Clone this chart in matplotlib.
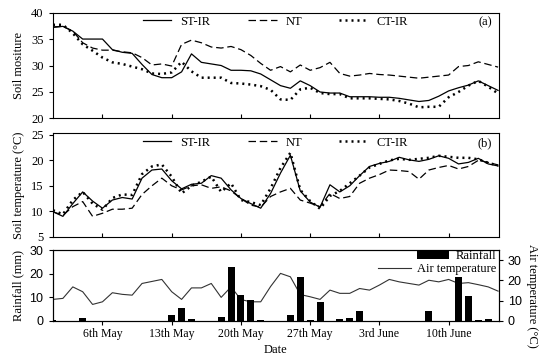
import matplotlib
matplotlib.use("Agg")
import matplotlib.pyplot as plt
import numpy as np

# day 0 = 1st May
days = np.arange(46)
tick_days = [5, 12, 19, 26, 33, 40]
tick_labels = ["6th May", "13th May", "20th May", "27th May", "3rd June", "10th June"]

# soil moisture (%)
sm_st = [37.2, 37.4, 36.5, 35.0, 35.0, 35.0, 33.0, 32.5, 32.3, 30.2,
         28.3, 27.7, 27.7, 28.8, 32.2, 30.6, 30.3, 30.0, 29.1, 29.1,
         29.0, 28.4, 27.3, 26.2, 25.7, 27.1, 26.2, 25.0, 24.8, 24.8,
         24.1, 24.1, 24.1, 24.0, 24.0, 23.8, 23.5, 23.2, 23.4, 24.2,
         25.2, 25.8, 26.3, 27.1, 26.2, 25.3]
sm_nt = [37.3, 37.4, 36.5, 34.3, 33.3, 32.9, 32.9, 32.6, 32.4, 31.5,
         30.1, 30.3, 29.9, 34.0, 34.8, 34.3, 33.5, 33.3, 33.6, 33.0,
         31.9, 30.4, 29.1, 29.8, 28.8, 30.1, 29.1, 29.6, 30.6, 28.5,
         28.0, 28.2, 28.5, 28.3, 28.2, 28.0, 27.8, 27.6, 27.8, 28.0,
         28.2, 29.8, 30.0, 30.7, 30.2, 29.7]
sm_ct = [37.7, 37.7, 36.1, 34.0, 32.8, 31.5, 30.6, 30.3, 29.8, 29.3,
         28.5, 28.4, 28.7, 30.7, 28.9, 27.7, 27.7, 27.7, 26.7, 26.6,
         26.4, 26.1, 25.4, 23.6, 23.5, 25.5, 25.8, 24.8, 24.6, 24.6,
         23.8, 23.8, 23.8, 23.7, 23.6, 23.3, 22.8, 22.1, 22.2, 22.2,
         24.0, 25.0, 26.2, 27.1, 26.0, 24.7]

# soil temperature (°C)
st_st = [9.9, 9.0, 11.5, 13.8, 12.0, 10.6, 12.2, 12.7, 12.4, 16.5,
         18.1, 18.3, 16.0, 14.4, 15.3, 15.5, 17.0, 16.5, 14.2, 12.5,
         11.5, 10.6, 13.5, 17.5, 21.0, 14.0, 11.8, 10.8, 15.2, 13.8,
         15.0, 17.0, 18.8, 19.4, 19.8, 20.6, 20.1, 19.8, 20.2, 20.9,
         20.4, 19.3, 19.6, 20.4, 19.3, 18.9]
st_nt = [9.9, 9.2, 10.9, 11.9, 9.0, 9.6, 10.4, 10.4, 10.6, 13.3,
         15.0, 16.5, 15.0, 14.2, 15.0, 15.2, 14.5, 14.8, 14.0, 12.5,
         11.2, 10.8, 12.9, 13.8, 14.5, 12.2, 11.6, 10.9, 13.5, 12.5,
         12.9, 15.5, 16.5, 17.2, 18.1, 18.0, 17.8, 16.3, 18.1, 18.6,
         19.0, 18.3, 18.8, 20.0, 19.6, 19.1]
st_ct = [10.2, 9.4, 12.2, 13.8, 11.5, 10.3, 12.6, 13.3, 13.2, 17.3,
         18.8, 19.2, 16.8, 13.5, 15.0, 15.8, 16.8, 13.8, 15.5, 12.2,
         11.8, 11.2, 14.5, 18.5, 21.5, 14.2, 12.0, 10.5, 13.0, 14.0,
         15.5, 17.0, 18.6, 19.3, 20.0, 20.3, 20.1, 20.3, 20.5, 20.9,
         20.7, 20.5, 20.5, 20.2, 19.5, 19.0]

# weather
rain_days = [0, 3, 12, 13, 14, 17, 18, 19, 20, 21, 24, 25, 26, 27, 29, 30, 31, 38, 41, 42, 43, 44]
rain_mm = [0.3, 1.3, 2.5, 5.6, 0.8, 1.8, 23.0, 11.0, 9.0, 0.4, 2.4, 18.8, 0.5, 8.1,
           0.8, 1.3, 4.3, 4.3, 18.8, 10.6, 0.5, 0.8]
air_temp = [10.6, 11.1, 16.8, 14.4, 8.1, 9.4, 13.9, 13.1, 12.7, 18.5,
            19.5, 20.5, 14.4, 10.6, 16.3, 16.3, 18.5, 11.6, 16.8, 10.5,
            9.4, 9.4, 17.0, 23.5, 21.8, 13.0, 11.9, 10.6, 15.2, 13.6,
            13.6, 16.0, 15.2, 17.7, 20.5, 19.3, 18.5, 17.7, 20.1, 19.3,
            20.5, 18.5, 18.9, 17.9, 16.8, 14.7]

serif = "Liberation Serif"
sans = "Liberation Sans"
dotted = (0, (0.8, 1.6))
dashed = (0, (6, 3))

fig = plt.figure(figsize=(5.5, 3.6), dpi=100)
ax_a = fig.add_axes([0.0955, 0.671, 0.811, 0.294])
ax_b = fig.add_axes([0.0955, 0.3425, 0.811, 0.287])
ax_c = fig.add_axes([0.0955, 0.109, 0.811, 0.196])

for ax in (ax_a, ax_b, ax_c):
    ax.set_xlim(-0.05, 45.05)
    ax.set_xticks(tick_days)
    for sp in ax.spines.values():
        sp.set_linewidth(0.8)

# (a) soil moisture
ax_a.plot(days, sm_st, color="black", lw=0.9, label="ST-IR")
ax_a.plot(days, sm_nt, color="black", lw=0.9, ls=dashed, label="NT")
ax_a.plot(days, sm_ct, color="black", lw=1.8, ls=dotted, label="CT-IR")
ax_a.set_ylim(20, 40)
ax_a.set_yticks([20, 25, 30, 35, 40])
ax_a.set_ylabel("Soil mositure", family=serif, fontsize=9, labelpad=4)
ax_a.text(0.985, 0.965, "(a)", transform=ax_a.transAxes, ha="right", va="top",
          family=serif, fontsize=9)

# (b) soil temperature
ax_b.plot(days, st_st, color="black", lw=0.9, label="ST-IR")
ax_b.plot(days, st_nt, color="black", lw=0.9, ls=dashed, label="NT")
ax_b.plot(days, st_ct, color="black", lw=1.8, ls=dotted, label="CT-IR")
ax_b.set_ylim(5, 25.3)
ax_b.set_yticks([5, 10, 15, 20, 25])
ax_b.set_ylabel("Soil temperature (°C)", family=serif, fontsize=9, labelpad=4)
ax_b.text(0.985, 0.965, "(b)", transform=ax_b.transAxes, ha="right", va="top",
          family=serif, fontsize=9)

for ax in (ax_a, ax_b):
    ax.tick_params(axis="x", direction="in", length=3, labelbottom=False)
    ax.tick_params(axis="y", direction="out", length=3, labelsize=9)
    for t in ax.get_yticklabels():
        t.set_family(serif)
    ax.legend(loc="upper center", bbox_to_anchor=(0.5, 1.0), ncol=3, frameon=False,
              prop={"family": serif, "size": 9}, handlelength=2.3, columnspacing=3.0,
              handletextpad=0.7, borderaxespad=0.15, borderpad=0.1)

# (c) rainfall and air temperature
ax_t = ax_c.twinx()
ax_c.set_zorder(ax_t.get_zorder() + 1)
ax_c.patch.set_visible(False)
bars = ax_c.bar(rain_days, rain_mm, width=0.7, color="black", label="Rainfall")
line, = ax_t.plot(days, air_temp, color="#333333", lw=0.8, label="Air temperature")
ax_c.set_ylim(0, 30)
ax_c.set_yticks([0, 10, 20, 30])
ax_t.set_ylim(0, 35)
ax_t.set_yticks([0, 10, 20, 30])
ax_c.set_xticklabels(tick_labels, family=serif, fontsize=8.5)
ax_c.tick_params(axis="x", direction="out", length=3, pad=2)
ax_c.tick_params(axis="y", direction="out", length=3, labelsize=9)
ax_t.tick_params(axis="y", direction="out", length=3, labelsize=9)
for t in ax_c.get_yticklabels() + ax_t.get_yticklabels():
    t.set_family(sans)
ax_c.set_ylabel("Rainfall (mm)", family=serif, fontsize=9, labelpad=4)
ax_t.set_ylabel("Air temperature (°C)", family=serif, fontsize=9, rotation=-90,
                labelpad=12, y=0.35)
ax_c.set_xlabel("Date", family=serif, fontsize=9, labelpad=3)
leg = ax_c.legend([bars, line], ["Rainfall", "Air temperature"], loc="upper right",
                  bbox_to_anchor=(1.0, 1.04), frameon=False,
                  prop={"family": serif, "size": 9}, handlelength=2.6,
                  handletextpad=0.5, labelspacing=0.1, borderaxespad=0.1, borderpad=0.1)
# right-align the rows like the original
for col in leg._legend_handle_box.get_children():
    col.align = "right"

fig.savefig("out.png", dpi=100)
